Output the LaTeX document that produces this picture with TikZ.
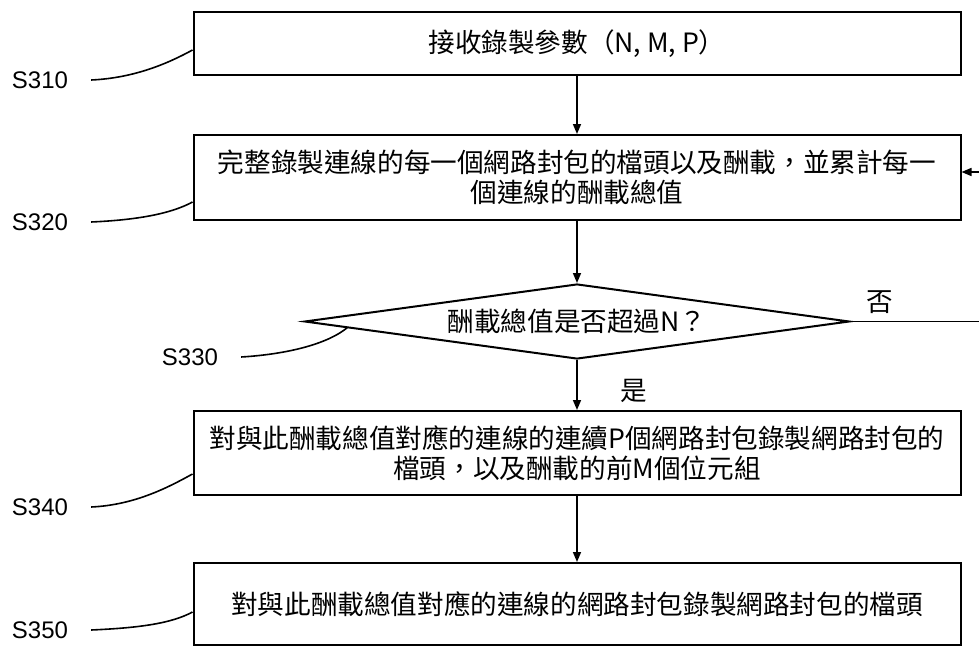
\documentclass[tikz,border=0pt]{standalone}
\usepackage{fontspec}
\setmainfont{Liberation Sans}
\newfontfamily\cjk{Noto Sans CJK TC}
\usetikzlibrary{positioning, calc, arrows.meta, shapes.geometric}

\begin{document}
\begin{tikzpicture}[x=0.5pt, y=-0.5pt,
		box/.style={draw, rectangle, align=center, line width=1pt, minimum width=383.5pt, inner sep=2pt, font=\cjk\fontsize{13.3}{15}\selectfont},
		test/.style={draw, diamond, aspect=7.3, inner sep=0pt, line width=1pt, minimum width=272.5pt, minimum height=37.5pt, font=\cjk\fontsize{13.3}{15}\selectfont},
		arrow/.style={-{Triangle[length=5pt, width=4pt]}, line width=0.8pt},
		tag/.style={font=\fontsize{12}{14}\selectfont},
		lead/.style={line width=0.8pt}]
	\useasboundingbox (0,0) rectangle (979,648);
	\node[box, minimum height=31.5pt] (recv) at (577,43.5) {接收錄製參數（N, M, P）};
	\node[box, minimum height=42.5pt, below = 29pt of recv] (record) {完整錄製連線的每一個網路封包的檔頭以及酬載，並累計每一\\個連線的酬載總值};
	\node[test, below = 31pt of record] (check) {酬載總值是否超過N？};
	\node[box, minimum height=42pt, below = 25pt of check] (partial) {對與此酬載總值對應的連線的連續P個網路封包錄製網路封包的\\檔頭，以及酬載的前M個位元組};
	\node[box, minimum height=41pt, below = 33pt of partial] (header) {對與此酬載總值對應的連線的網路封包錄製網路封包的檔頭};

	\node[tag] (s310) at (40,80) {S310};
	\node[tag] (s320) at (40,222) {S320};
	\node[tag] (s330) at (190,357) {S330};
	\node[tag] (s340) at (40,507) {S340};
	\node[tag] (s350) at (40,630) {S350};

	\draw[arrow] (recv) -- (record);
	\draw[arrow] (record) -- (check);
	\draw[arrow] (check) -- node[pos=0.62, right=18pt, font=\cjk\fontsize{13.3}{15}\selectfont] {是} (partial);
	\draw[arrow] (partial) -- (header);
	\draw[arrow] (check.east) -- node[pos=0.18, above, font=\cjk\fontsize{13.3}{15}\selectfont] {否} ++(160,0) |- ([yshift=2.75pt]record.east);

	% step labels
	\draw[lead] ([xshift=8pt]s310.east) .. controls +(45,-2) and +(-22,12) .. ([yshift=-3.25pt]recv.west);
	\draw[lead] ([xshift=8pt]s320.east) .. controls +(45,-2) and +(-22,12) .. ([yshift=-12.25pt]record.west);
	\draw[lead] ([xshift=8pt]s330.east) .. controls +(50,-3) and +(-18,15) .. ($(check.west)!0.16!(check.south)$);
	\draw[lead] ([xshift=8pt]s340.east) .. controls +(45,-2) and +(-22,12) .. ([yshift=-10.5pt]partial.west);
	\draw[lead] ([xshift=8pt]s350.east) .. controls +(45,-2) and +(-22,12) .. ([yshift=-4pt]header.west);
\end{tikzpicture}
\end{document}
